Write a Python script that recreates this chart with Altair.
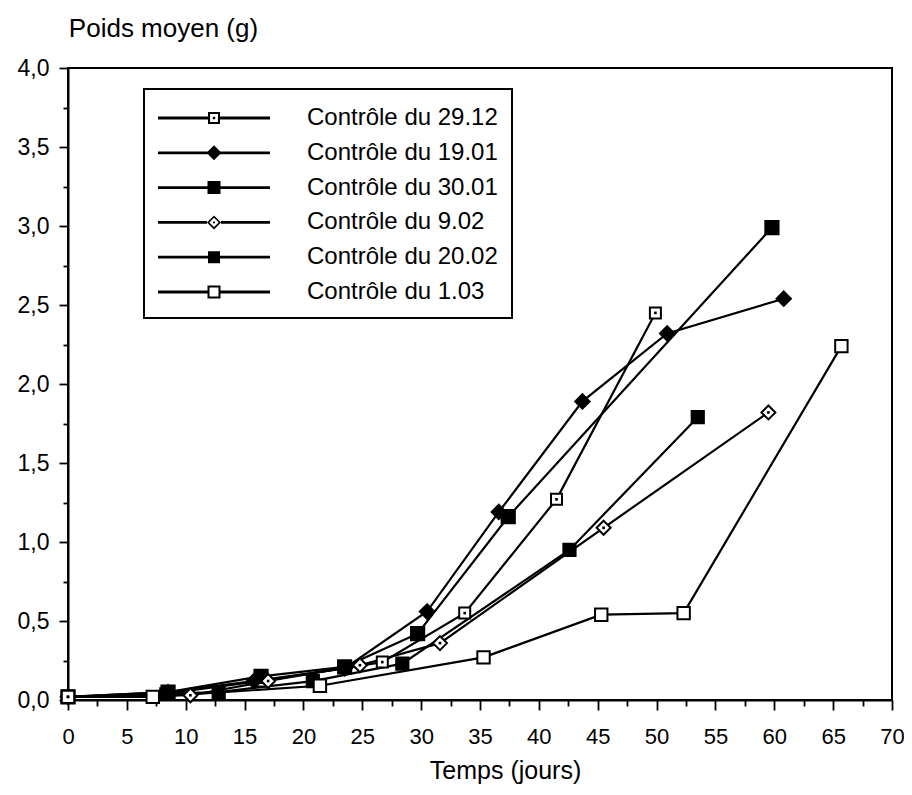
import altair as alt
import pandas as pd

# ---------------- data ----------------
series_names = ["Contrôle du 29.12", "Contrôle du 19.01", "Contrôle du 30.01",
                "Contrôle du 9.02", "Contrôle du 20.02", "Contrôle du 1.03"]

days_2912 = [0, 8.3, 16.4, 26.7, 33.7, 41.5, 49.9]
weight_2912 = [0.02, 0.04, 0.12, 0.24, 0.55, 1.27, 2.45]

days_1901 = [0, 8.5, 15.8, 23.5, 30.5, 36.6, 43.7, 50.9, 60.8]
weight_1901 = [0.02, 0.05, 0.12, 0.20, 0.56, 1.19, 1.89, 2.32, 2.54]

days_3001 = [0, 8.5, 16.4, 23.5, 29.7, 37.4, 59.8]
weight_3001 = [0.02, 0.05, 0.15, 0.21, 0.42, 1.16, 2.99]

days_0902 = [0, 10.4, 17.0, 24.8, 31.6, 45.5, 59.5]
weight_0902 = [0.02, 0.03, 0.12, 0.22, 0.36, 1.09, 1.82]

days_2002 = [0, 12.8, 20.8, 28.4, 42.6, 53.5]
weight_2002 = [0.02, 0.05, 0.12, 0.23, 0.95, 1.79]

days_0103 = [0, 7.2, 21.4, 35.3, 45.3, 52.3, 65.7]
weight_0103 = [0.02, 0.02, 0.09, 0.27, 0.54, 0.55, 2.24]

all_days = [days_2912, days_1901, days_3001, days_0902, days_2002, days_0103]
all_weights = [weight_2912, weight_1901, weight_3001, weight_0902, weight_2002, weight_0103]

x_ticks = [i * 2.5 for i in range(29)]
y_ticks = [i * 0.25 for i in range(17)]

rows = []
for name, xs, ys in zip(series_names, all_days, all_weights):
    for i, (xv, yv) in enumerate(zip(xs, ys)):
        rows.append({"serie": name, "jour": xv, "poids": yv, "ordre": i})
df = pd.DataFrame(rows)

FONT = "Liberation Sans"


# ---------------- symbol paths ----------------
def f(v, s):
    return f"{v / s:.4f}"


def sq(h, s, ccw=False):
    if ccw:
        return f"M{f(-h,s)},{f(-h,s)}V{f(h,s)}H{f(h,s)}V{f(-h,s)}Z"
    return f"M{f(-h,s)},{f(-h,s)}H{f(h,s)}V{f(h,s)}H{f(-h,s)}Z"


def dia(h, s, ccw=False):
    if ccw:
        return f"M0,{f(-h,s)}L{f(-h,s)},0L0,{f(h,s)}L{f(h,s)},0Z"
    return f"M0,{f(-h,s)}L{f(h,s)},0L0,{f(h,s)}L{f(-h,s)},0Z"


def legline(m, s, half=56, t=1.4):
    left = f"M{f(-half,s)},{f(-t,s)}H{f(-m,s)}V{f(t,s)}H{f(-half,s)}Z"
    right = f"M{f(m,s)},{f(-t,s)}H{f(half,s)}V{f(t,s)}H{f(m,s)}Z"
    return left + right


# plot markers (size 144 -> 6 px per unit)
P = 6
plot_shapes = [sq(5.5, P), dia(7.2, P), sq(6.6, P), dia(7, P), sq(6.1, P), sq(6.2, P)]
plot_fills = ["white", "black", "black", "white", "black", "white"]

# legend symbols (size 900 -> 15 px per unit), drawn with fill only
L = 15
legend_shapes = [
    legline(6, L) + sq(6, L) + sq(3.9, L, True) + sq(1.2, L),
    legline(6, L) + dia(7.5, L),
    legline(6, L) + sq(6.5, L),
    legline(7, L) + dia(7, L) + dia(4.7, L, True) + dia(1.3, L),
    legline(6, L) + sq(6, L),
    legline(6.5, L) + sq(6.5, L) + sq(4.5, L, True),
]

x_enc = alt.X("jour:Q", scale=alt.Scale(domain=[0, 70], nice=False, zero=False),
              axis=alt.Axis(values=x_ticks,
                            labelExpr="datum.value % 5 === 0 ? datum.label : ''",
                            tickSize={"condition": {"test": "datum.value % 5 === 0", "value": 10},
                                      "value": 6},
                            title="Temps (jours)", titleX=437, titleY=78, titleFontSize=25,
                            titleAlign="center", titleBaseline="alphabetic",
                            labelPadding=16, labelFlush=False, labelOverlap=False,
                            grid=False))
y_enc = alt.Y("poids:Q", scale=alt.Scale(domain=[0, 4], nice=False),
              axis=alt.Axis(values=y_ticks,
                            labelExpr="datum.value % 0.5 === 0 ? replace(format(datum.value, '.1f'), '.', ',') : ''",
                            tickSize={"condition": {"test": "datum.value % 0.5 === 0", "value": 9},
                                      "value": 5},
                            labelFontSize=23,
                            title="Poids moyen (g)", titleAngle=0, titleX=95, titleY=-32,
                            titleFontSize=26,
                            titleAlign="center", titleBaseline="alphabetic",
                            labelPadding=10, labelFlush=False, labelOverlap=False,
                            grid=False))

base = alt.Chart(df)

lines = base.mark_line(color="black", strokeWidth=2.2).encode(
    x=x_enc, y=y_enc, detail="serie:N", order="ordre:Q")

markers = base.mark_point(filled=False, stroke="black", strokeWidth=2, opacity=1, size=144).encode(
    x=x_enc, y=y_enc,
    shape=alt.Shape("serie:N", scale=alt.Scale(domain=series_names, range=plot_shapes), legend=None),
    fill=alt.Fill("serie:N", scale=alt.Scale(domain=series_names, range=plot_fills), legend=None),
)

dots = base.transform_filter(
    alt.FieldOneOfPredicate(field="serie", oneOf=["Contrôle du 29.12", "Contrôle du 9.02"])
).mark_square(color="black", size=7, opacity=1).encode(x=x_enc, y=y_enc)

legend_layer = base.transform_filter("datum.poids < -1").mark_point(
    filled=True, color="black", strokeWidth=0, opacity=1).encode(
    x=x_enc, y=y_enc,
    shape=alt.Shape("serie:N", scale=alt.Scale(domain=series_names, range=legend_shapes),
                    legend=alt.Legend(title=None, orient="none", legendX=76, legendY=21,
                                      symbolSize=900, symbolOpacity=1, symbolFillColor="black",
                                      symbolStrokeWidth=0, symbolOffset=41, labelOffset=78,
                                      rowPadding=7.8, labelLimit=400, labelFontSize=24,
                                      labelFont=FONT, labelColor="black",
                                      strokeColor="black", padding=14)),
)

chart = alt.layer(lines, markers, dots, legend_layer).resolve_scale(
    shape="independent", fill="independent"
).properties(
    width=824, height=632, autosize="none",
    padding={"left": 60, "top": 60, "right": 12, "bottom": 87},
).configure_view(stroke="black", strokeWidth=2).configure_axis(
    domainColor="black", domainWidth=2, tickColor="black", tickWidth=1.8,
    labelFont=FONT, labelFontSize=22, labelColor="black",
    titleFont=FONT, titleFontSize=24, titleColor="black", titleFontWeight="normal",
).configure_legend(strokeWidth=2)

chart.save("out.html", embed_options={"renderer": "svg", "actions": False})
